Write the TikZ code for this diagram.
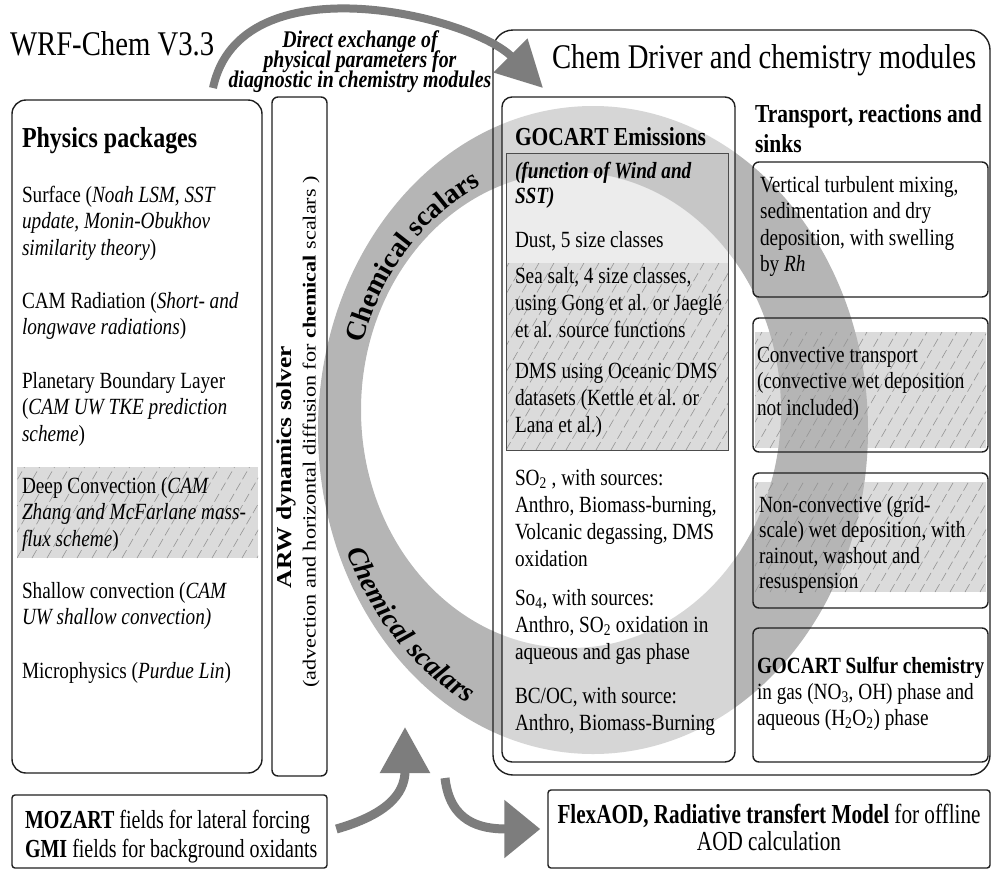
\documentclass[tikz,border=0pt]{standalone}
\usepackage{fontspec}
\setmainfont{Liberation Serif}[FakeStretch=0.83]
\newfontfamily\rotfont{Liberation Serif}[FakeStretch=1.2]
\newfontfamily\arcfont{Liberation Serif}
\newfontfamily\lowfont{Liberation Serif}[FakeStretch=0.77]
\usetikzlibrary{arrows.meta,decorations.text}

\definecolor{ringgray}{RGB}{181,181,181}
\definecolor{arrowgray}{RGB}{125,125,125}

% stacked lines, first baseline is the node baseline
\newcommand\lstack[1]{\vtop{\lineskiplimit=-\maxdimen\halign{##\hfil\cr#1\crcr}}}
\newcommand\cstack[1]{\vtop{\lineskiplimit=-\maxdimen\halign{\hfil##\hfil\cr#1\crcr}}}
\newcommand\fs[2]{\fontsize{#1}{#2}\selectfont}

% dashed diagonal hatching inside a rectangle
\newcommand\hatchlines[4]{%
  \begin{scope}
    \clip (#1,#2) rectangle (#3,#4);
    \foreach \k in {0,...,26}
      \draw[hatch] ({#1-120+\k*15},#4) -- ++(-60:230);
  \end{scope}}

\tikzset{
  frame/.style={draw=black!88, line width=1.4pt},
  thinframe/.style={draw=black!70, line width=0.9pt},
  hatchbg/.style={fill=black!14},
  hatch/.style={draw=black!42, line width=0.6pt, dash pattern=on 9pt off 4pt},
  txt/.style={inner sep=0pt, outer sep=0pt, anchor=base west},
  body/.style={txt, font=\fs{23.2}{26.7}},
  bigarrow/.style={draw=arrowgray, line cap=butt},
}

\begin{document}
\begin{tikzpicture}[x=1pt,y=-1pt]
\useasboundingbox (0,0) rectangle (993,873);

% shaded backgrounds of hatched areas
\fill[hatchbg] (17,467) rectangle (258,558);
\fill[hatchbg] (755,332) rectangle (986,448);
\fill[hatchbg] (755,482) rectangle (986,592);

% chemical scalars ring
\fill[ringgray, even odd rule] (593,430) ellipse [x radius=275, y radius=324]
                               (571,410) ellipse [x radius=210, y radius=238];

% GOCART emissions box (lightens the ring)
\node[frame, rounded corners=10pt, fill=white, fill opacity=0.45,
      minimum width=233pt, minimum height=665pt] (gocart) at (618.5,429.5) {};
\fill[black, fill opacity=0.075] (506,153) rectangle (728,263);
\fill[black, fill opacity=0.14] (506,263) rectangle (728,450);

\hatchlines{506}{263}{728}{450}
\hatchlines{17}{467}{258}{558}
\hatchlines{755}{332}{986}{448}
\hatchlines{755}{482}{986}{592}

\node[thinframe, minimum width=222pt, minimum height=297pt] (emis) at (617,301.5) {};

% main frames
\node[frame, rounded corners=14pt, minimum width=250pt, minimum height=673pt] (phys) at (137,436.5) {};
\node[frame, rounded corners=6pt, minimum width=55pt, minimum height=679pt] (arw) at (299.5,436.5) {};
\node[frame, rounded corners=20pt, minimum width=497pt, minimum height=745pt] (chem) at (741.5,402.5) {};
\node[frame, rounded corners=6pt, minimum width=235pt, minimum height=135pt] (mix) at (870.5,229.5) {};
\node[frame, rounded corners=6pt, minimum width=235pt, minimum height=134pt] (conv) at (870.5,385) {};
\node[frame, rounded corners=6pt, minimum width=235pt, minimum height=135pt] (wet) at (870.5,540.5) {};
\node[frame, rounded corners=6pt, minimum width=235pt, minimum height=134pt] (sulf) at (870.5,695) {};
\node[frame, rounded corners=3pt, minimum width=315pt, minimum height=73pt] (mozart) at (169.5,831.5) {};
\node[frame, rounded corners=3pt, minimum width=442pt, minimum height=78pt] (flex) at (769,829) {};

% titles
\node[txt, font=\fs{34.6}{40}] (title) at (10,55) {WRF-Chem V3.3};
\node[txt, font=\fs{34.6}{40}] (chemtitle) at (552,68) {Chem Driver and chemistry modules};
\node[txt, anchor=base, font=\bfseries\itshape\fs{23.9}{20}] (exch) at (360,47)
  {\cstack{Direct exchange of\cr physical parameters for\cr diagnostic in chemistry modules}};

% physics packages
\node[txt, font=\bfseries\fs{28.9}{30}] (physhead) at (22,147) {Physics packages};
\node[body] (p1) at (22,202) {\lstack{Surface (\textit{Noah LSM, SST}\cr \textit{update, Monin-Obukhov}\cr \textit{similarity theory})}};
\node[body] (p2) at (22,308) {\lstack{CAM Radiation (\textit{Short- and}\cr \textit{longwave radiations})}};
\node[body] (p3) at (22,388) {\lstack{Planetary Boundary Layer\cr (\textit{CAM UW TKE prediction}\cr \textit{scheme})}};
\node[body] (p4) at (22,493) {\lstack{Deep Convection (\textit{CAM}\cr \textit{Zhang and McFarlane mass-}\cr \textit{flux scheme})}};
\node[body] (p5) at (22,598) {\lstack{Shallow convection (\textit{CAM}\cr \textit{UW shallow convection)}}};
\node[body] (p6) at (22,678) {Microphysics (\textit{Purdue Lin})};

% dynamics solver
\node[inner sep=0pt, rotate=90, font=\rotfont\bfseries\fs{21.2}{24}] (arwhead) at (286,467) {ARW dynamics solver};
\node[inner sep=0pt, rotate=90, font=\rotfont\fs{18.5}{20}] (arwsub) at (311,432)
  {(advection and horizontal diffusion for \textbf{chemical} scalars )};

% ring labels
\path[decorate, decoration={text along path, text align=center,
   text={|\arcfont\bfseries\fontsize{28}{28}\selectfont|Chemical scalars}}]
  (574.3,413) ++(188:219.75 and 250.9) arc[start angle=188, end angle=254, x radius=219.75, y radius=250.9];
\path[decorate, decoration={text along path, text align=center,
   text={|\arcfont\bfseries\itshape\fontsize{28}{28}\selectfont|Chemical scalars}}]
  (589.7,427) ++(170:265.25 and 311.1) arc[start angle=170, end angle=102, x radius=265.25, y radius=311.1];

% GOCART emissions
\node[txt, font=\bfseries\fs{25.9}{30}] (ghead) at (515,145) {GOCART Emissions};
\node[txt, font=\bfseries\itshape\fs{23.2}{25}] (g0) at (515,178) {\lstack{(function of Wind and\cr SST)}};
\node[body] (g1) at (515,247) {Dust, 5 size classes};
\node[txt, font=\fs{23.2}{27}] (g2) at (515,283) {\lstack{Sea salt, 4 size classes,\cr using Gong et al. or Jaeglé\cr et al. source functions}};
\node[txt, font=\fs{23.2}{27}] (g3) at (515,378) {\lstack{DMS using Oceanic DMS\cr datasets (Kettle et al. or\cr Lana et al.)}};
\node[txt, font=\fs{23.2}{27}] (g4) at (515,485) {\lstack{SO\textsubscript{2} , with sources:\cr Anthro, Biomass-burning,\cr Volcanic degassing, DMS\cr oxidation}};
\node[txt, font=\fs{23.2}{27}] (g5) at (515,605) {\lstack{So\textsubscript{4}, with sources:\cr Anthro, SO\textsubscript{2} oxidation in\cr aqueous and gas phase}};
\node[txt, font=\fs{23.2}{27}] (g6) at (515,703) {\lstack{BC/OC, with source:\cr Anthro, Biomass-Burning}};

% transport, reactions and sinks
\node[txt, font=\bfseries\fs{25.9}{30}] (thead) at (755,122) {\lstack{Transport, reactions and\cr sinks}};
\node[txt, font=\fs{23.2}{26.5}] (t1) at (760,192) {\lstack{Vertical turbulent mixing,\cr sedimentation and dry\cr deposition, with swelling\cr by \textit{Rh}}};
\node[txt, font=\fs{23.2}{26.5}] (t2) at (757,362) {\lstack{Convective transport\cr (convective wet deposition\cr not included)}};
\node[txt, font=\fs{23.2}{25.5}] (t3) at (759,512) {\lstack{Non-convective (grid-\cr scale) wet deposition, with\cr rainout, washout and\cr resuspension}};
\node[txt, font=\fs{23.2}{26}] (t4) at (757,673) {\lstack{\textbf{GOCART Sulfur chemistry}\cr in gas (NO\textsubscript{3}, OH) phase and\cr aqueous (H\textsubscript{2}O\textsubscript{2}) phase}};

% external inputs and outputs
\node[txt, font=\lowfont\fs{26}{29}] (moztext) at (25,828) {\lstack{\textbf{MOZART} fields for lateral forcing\cr \textbf{GMI} fields for background oxidants}};
\node[txt, anchor=base, font=\lowfont\fs{27.5}{27}] (flextext) at (769,823) {\cstack{\textbf{FlexAOD, Radiative transfert Model} for offline\cr AOD calculation}};

% arrows
\coordinate (xstart) at (213,88);
\coordinate (xend) at (543,88);
\draw[bigarrow, line width=8pt, -{Triangle[length=46pt, width=46pt]}]
  (xstart) .. controls (240,-40) and (470,15) .. (xend);

\coordinate (uptip) at (405,727);
\draw[bigarrow, line width=9pt, shorten <=9pt, -{Triangle[length=46pt, width=48pt]}]
  (mozart.east) .. controls (385,815) and (405,795) .. (uptip);

\coordinate (dnstart) at (445,778);
\draw[bigarrow, line width=9pt, shorten >=7pt, -{Triangle[length=36pt, width=56pt]}]
  (dnstart) .. controls (450,822) and (480,829) .. (flex.west);
\end{tikzpicture}
\end{document}
